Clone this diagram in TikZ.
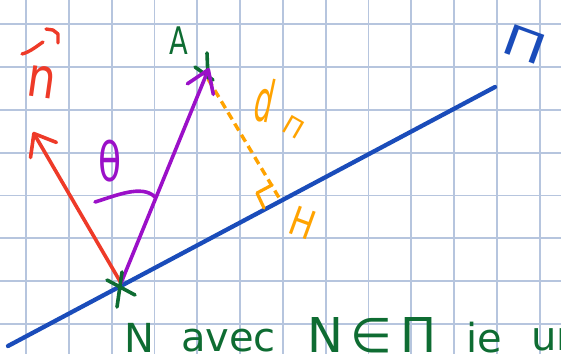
\documentclass[tikz,border=0pt]{standalone}
\usepackage{fontspec}
\setmainfont{DejaVu Sans}
\usetikzlibrary{arrows.meta}
\definecolor{gridc}{RGB}{182,197,222}
\definecolor{planec}{RGB}{26,76,186}
\definecolor{redc}{RGB}{238,58,40}
\definecolor{purc}{RGB}{155,16,200}
\definecolor{orc}{RGB}{255,163,0}
\definecolor{grc}{RGB}{14,108,50}
\newcommand{\fsz}[1]{\fontsize{#1}{#1}\selectfont}
\begin{document}
\begin{tikzpicture}[x=1pt,y=-1pt,
  hand/.style={line width=3.6pt,line cap=round,line join=round},
  gridline/.style={gridc,line width=1.8pt},
  lbl/.style={inner sep=0pt,outer sep=0pt}]
\useasboundingbox (0,0) rectangle (561,354);
\clip (0,0) rectangle (561,354);
\fill[white] (0,0) rectangle (561,354);
% grid
\foreach \i in {0,...,12} \draw[gridline] ({26+42.8*\i},0) -- ({26+42.8*\i},354);
\foreach \j in {0,...,7} \draw[gridline] (0,{24.3+42.8*\j}) -- (561,{24.3+42.8*\j});
% key points
\coordinate (P1) at (8,346);
\coordinate (P2) at (495,87);
\coordinate (N) at (121,283);
\coordinate (A) at (209,68);
\coordinate (Ad) at (208,79);
\coordinate (H) at (281,201);
\coordinate (ntip) at (33,132);
\coordinate (R1) at (272,185);
\coordinate (R2) at (257,193);
\coordinate (R3) at (264,208);
% plane
\draw[hand,planec,line width=4.3pt] (P1) -- (P2);
% distance
\draw[orc,line width=3.4pt,dash pattern=on 8pt off 5pt] (Ad) -- (H);
\draw[hand,orc,line width=3.2pt] (R1) -- (R2) -- (R3);
% cross at A
\draw[hand,grc,shift={(A)}] (-14,-1) -- (4,12) (-2,-15) -- (-1,10);
% normal vector
\draw[hand,redc,-{Straight Barb[length=19pt,width=30pt,round]}] (N) -- (ntip);
% vector NA
\draw[hand,purc,-{Straight Barb[length=21pt,width=28pt,round]}] (N) -- (A);
% angle mark
\draw[hand,purc] (95,202) .. controls (115,196) and (142,184) .. (155,197);
% cross at N
\draw[hand,grc,shift={(N)}] (-14,-3) -- (14,12) (1,-11) -- (-4,24);
% labels
\node[lbl,grc,font=\fsz{38}] (lblA) at (179,41) {\scalebox{0.72}[1]{A}};
\node[lbl,purc,font=\fsz{54}] (lblth) at (110,161) {\scalebox{0.7}[1]{θ}};
\node[lbl,redc,font=\fsz{56},rotate=-8] (lbln) at (42,82) {\scalebox{0.8}[1]{n}};
\draw[hand,redc,line width=3.4pt] (22,54) .. controls (30,52) and (37,46) .. (43,42);
\draw[hand,redc,line width=3.4pt] (46,29) -- (53,30) -- (58,34) -- (58,43);
\node[lbl,orc,font=\fsz{58},rotate=-12] (lbld) at (265,100) {\scalebox{0.5}[1]{d}};
\node[lbl,orc,font=\fsz{26},rotate=-30] (lbldsub) at (294,127) {Π};
\node[lbl,orc,font=\fsz{40},rotate=-20] (lblH) at (303,223) {\scalebox{0.8}[1]{H}};
\node[lbl,planec,font=\fsz{42},rotate=-20] (lblPi) at (525,44) {\scalebox{1.35}[1]{Π}};
% caption
\node[lbl,grc,font=\fsz{40},anchor=base west] (c1) at (124,352) {N};
\node[lbl,grc,font=\fsz{40},anchor=base west] (c2) at (181,351) {avec};
\node[lbl,grc,font=\fsz{48},anchor=base west] (c3) at (307,352) {N\,∈\,Π};
\node[lbl,grc,font=\fsz{40},anchor=base west] (c4) at (466,352) {ie};
\node[lbl,grc,font=\fsz{40},anchor=base west] (c5) at (531,350) {un};
\end{tikzpicture}
\end{document}
